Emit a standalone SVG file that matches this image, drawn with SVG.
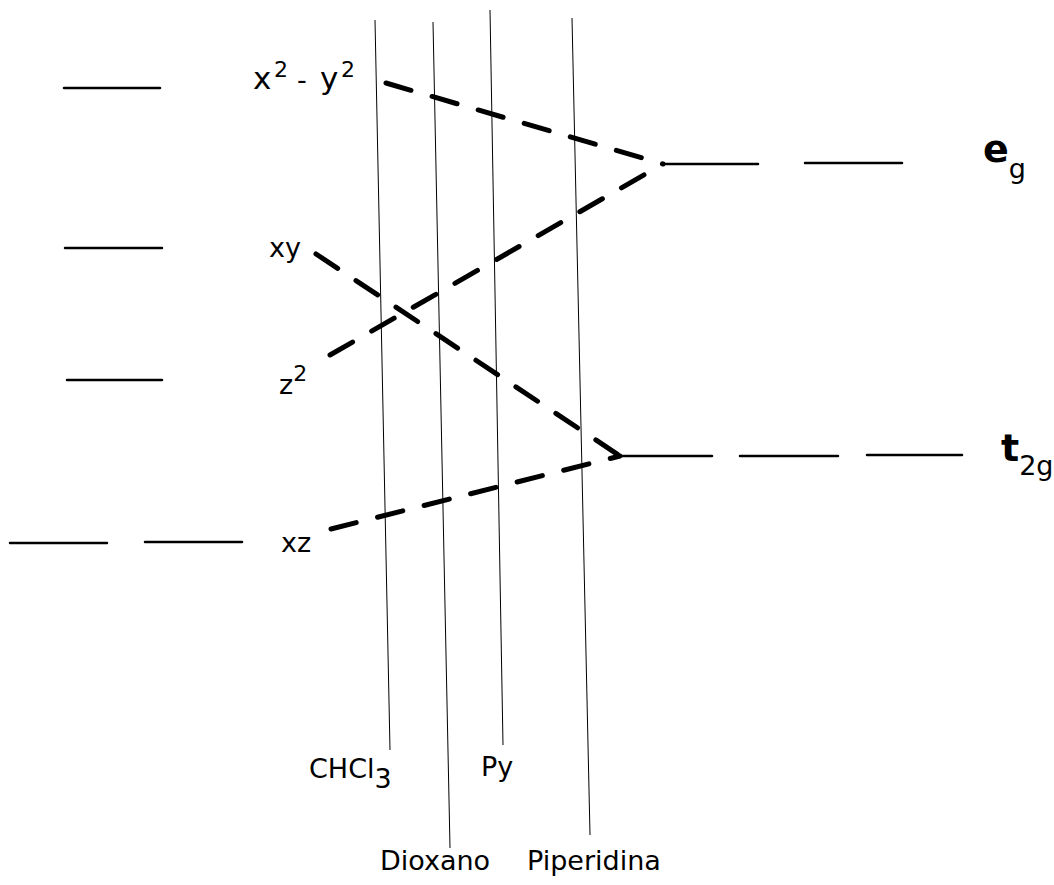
<svg xmlns="http://www.w3.org/2000/svg" width="1054" height="885" viewBox="0 0 1054 885">
<style>
.lvl{stroke:#000;stroke-width:2.5;fill:none;stroke-linecap:round}
.vl{stroke:#000;stroke-width:1;fill:none}
.dash{stroke:#000;stroke-width:5;fill:none;stroke-dasharray:26 22;stroke-linecap:round}
.t{font-family:"DejaVu Sans","Liberation Sans",sans-serif;font-size:27px;fill:#000}
.tb{font-family:"DejaVu Sans","Liberation Sans",sans-serif;font-size:38px;font-weight:bold;fill:#000}
.sub{font-size:27px;font-weight:normal}
</style>
<rect width="1054" height="885" fill="#fff"/>
<g id="left-levels">
<line class="lvl" x1="64" y1="88" x2="160" y2="88"/>
<line class="lvl" x1="65" y1="248" x2="162" y2="248"/>
<line class="lvl" x1="67" y1="380" x2="162" y2="380"/>
<line class="lvl" x1="10" y1="543" x2="107" y2="543"/>
<line class="lvl" x1="145" y1="542" x2="242" y2="542"/>
</g>
<g id="orbital-labels">
<text class="t" y="89"><tspan x="253" font-size="31">x</tspan><tspan x="274" y="77" font-size="22">2</tspan><tspan x="297" y="89">-</tspan><tspan x="320" font-size="31">y</tspan><tspan x="341" y="77" font-size="22">2</tspan></text>
<text class="t" x="269" y="257">xy</text>
<text class="t" x="279" y="394">z<tspan font-size="22" dy="-13">2</tspan></text>
<text class="t" x="281" y="552">xz</text>
</g>
<g id="solvent-lines">
<line class="vl" x1="375" y1="20" x2="390" y2="750"/>
<line class="vl" x1="433" y1="22" x2="450" y2="848"/>
<line class="vl" x1="490" y1="10" x2="503" y2="745"/>
<line class="vl" x1="572" y1="18" x2="590" y2="835"/>
</g>
<g id="solvent-labels">
<text class="t" x="309" y="778">CHCl<tspan dy="10">3</tspan></text>
<text class="t" x="481" y="776">Py</text>
<text class="t" x="380" y="870">Dioxano</text>
<text class="t" x="527" y="870">Piperidina</text>
</g>
<g id="connectors">
<line class="dash" x1="386" y1="83" x2="663" y2="164"/>
<line class="dash" x1="330" y1="355" x2="663" y2="164"/>
<line class="dash" x1="316" y1="254" x2="620" y2="456"/>
<line class="dash" x1="331" y1="529" x2="620" y2="456"/>
</g>
<g id="eg">
<line class="lvl" x1="663" y1="164" x2="758" y2="164"/>
<line class="lvl" x1="805" y1="163" x2="902" y2="163"/>
<text class="tb" x="983" y="162">e<tspan class="sub" dy="16">g</tspan></text>
</g>
<g id="t2g">
<line class="lvl" x1="620" y1="456" x2="712" y2="456"/>
<line class="lvl" x1="740" y1="456" x2="838" y2="456"/>
<line class="lvl" x1="867" y1="455" x2="962" y2="455"/>
<text class="tb" x="1001" y="461">t<tspan class="sub" dy="14">2g</tspan></text>
</g>
</svg>
